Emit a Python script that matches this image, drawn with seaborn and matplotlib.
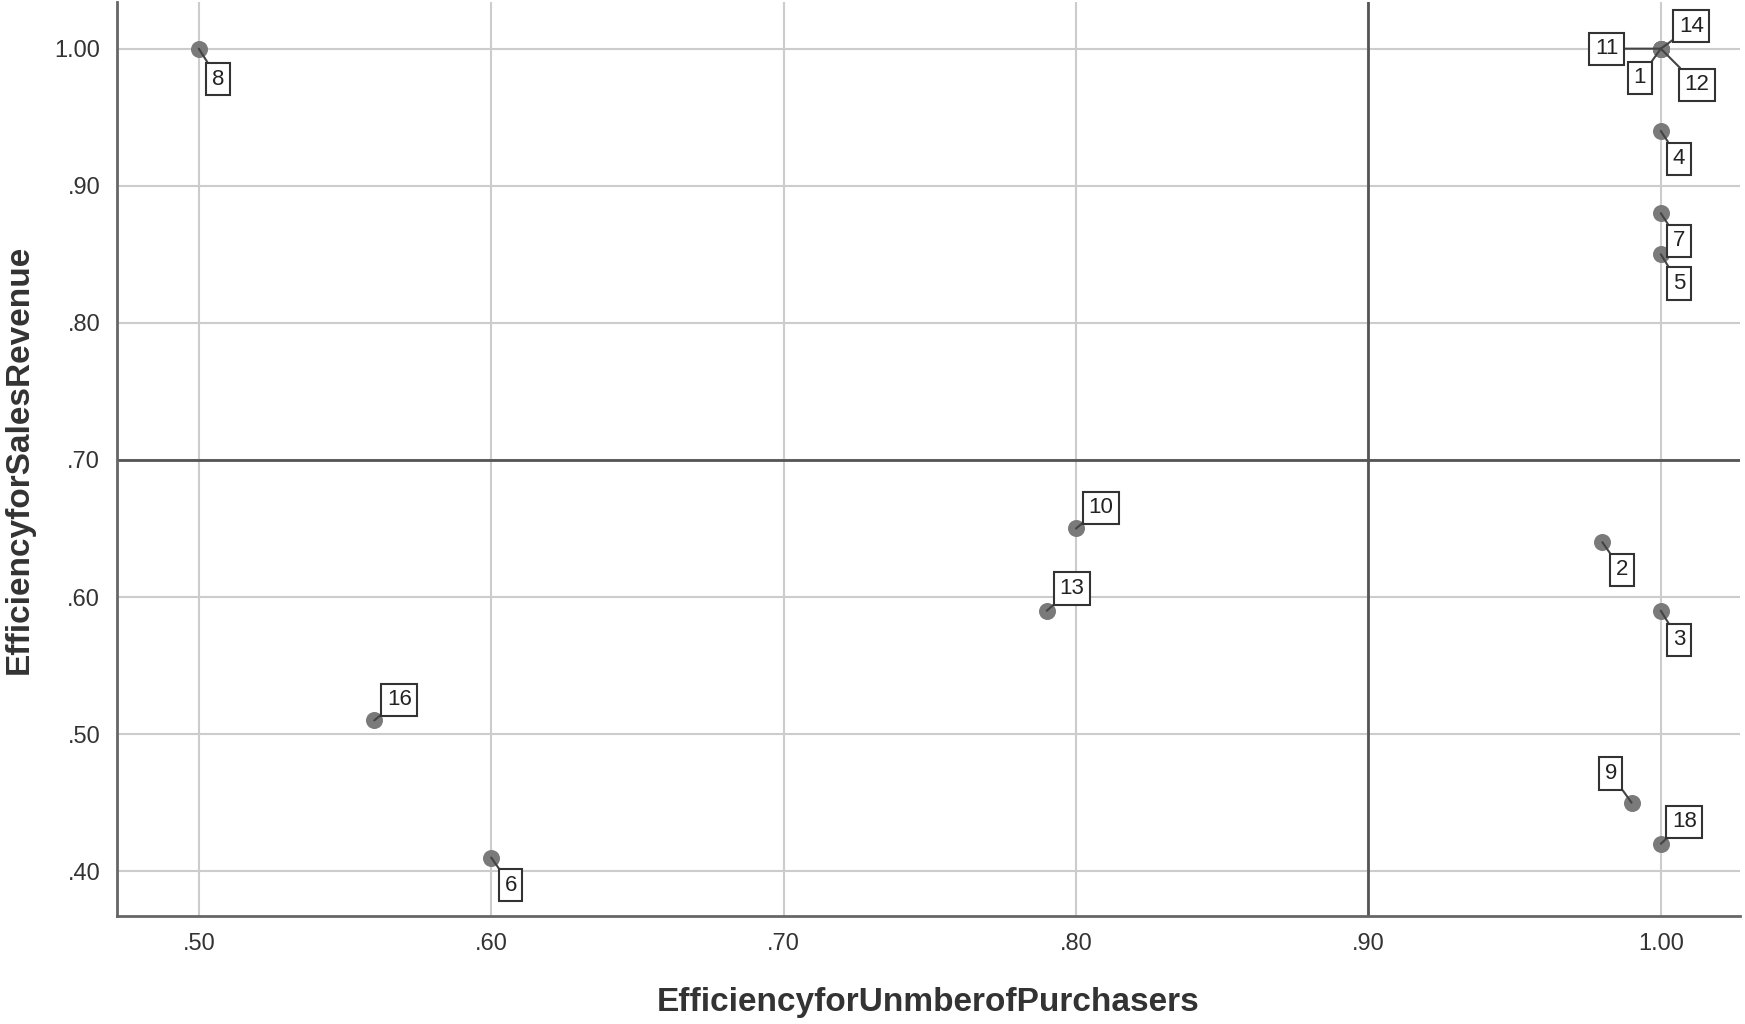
import matplotlib
matplotlib.use("Agg")
import matplotlib.pyplot as plt
import seaborn as sns
import pandas as pd

# data
units = ["8", "11", "1", "14", "12", "4", "7", "5", "10", "13", "2", "3", "16", "6", "9", "18"]
eff_purchasers = [0.50, 1.00, 1.00, 1.00, 1.00, 1.00, 1.00, 1.00, 0.80, 0.79, 0.98, 1.00, 0.56, 0.60, 0.99, 1.00]
eff_revenue = [1.00, 1.00, 1.00, 1.00, 1.00, 0.94, 0.88, 0.85, 0.65, 0.59, 0.64, 0.59, 0.51, 0.41, 0.45, 0.42]

# label offsets in points (dx, dy)
label_offsets = {
    "8": (14, -22), "11": (-39, 0), "1": (-15, -21), "14": (22, 16), "12": (26, -26),
    "4": (13, -20), "7": (13, -20), "5": (13, -21), "10": (18, 15), "13": (18, 16),
    "2": (14, -20), "3": (13, -21), "16": (18, 15), "6": (14, -20), "9": (-15, 21),
    "18": (17, 16),
}

x_ticks = [0.50, 0.60, 0.70, 0.80, 0.90, 1.00]
y_ticks = [0.40, 0.50, 0.60, 0.70, 0.80, 0.90, 1.00]


def fmt(v):
    s = f"{v:.2f}"
    return s if v >= 1 else s[1:]


df = pd.DataFrame({"unit": units, "x": eff_purchasers, "y": eff_revenue})

sns.set_style("white")
plt.rcParams["font.family"] = ["Liberation Sans", "DejaVu Sans"]

fig = plt.figure(figsize=(17.45, 10.24), dpi=100)
ax = fig.add_axes([0.067, 0.105, 0.93, 0.893])

ax.set_xlim(0.472, 1.027)
ax.set_ylim(0.367, 1.034)
ax.set_xticks(x_ticks)
ax.set_yticks(y_ticks)
ax.set_xticklabels([fmt(v) for v in x_ticks], fontsize=17, color="#333333")
ax.set_yticklabels([fmt(v) for v in y_ticks], fontsize=17, color="#333333")
ax.grid(True, color="#cccccc", linewidth=1.5)
ax.set_axisbelow(True)

ax.axvline(0.90, color="#555555", linewidth=2, zorder=1)
ax.axhline(0.70, color="#555555", linewidth=2, zorder=1)

sns.scatterplot(data=df, x="x", y="y", ax=ax, s=150, color="#7a7a7a",
                linewidth=0, zorder=3, legend=False)

for u, xv, yv in zip(units, eff_purchasers, eff_revenue):
    dx, dy = label_offsets[u]
    ax.annotate(u, (xv, yv), xytext=(dx, dy), textcoords="offset points",
                ha="center", va="center", fontsize=16, color="#222222",
                bbox=dict(boxstyle="square,pad=0.25", fc="white", ec="#333333", lw=1.5),
                arrowprops=dict(arrowstyle="-", color="#444444", lw=1.5,
                                shrinkA=0, shrinkB=0),
                zorder=4)

for side in ["top", "right"]:
    ax.spines[side].set_visible(False)
for side in ["left", "bottom"]:
    ax.spines[side].set_color("#666666")
    ax.spines[side].set_linewidth(2)
ax.tick_params(length=0, pad=12)

ax.set_xlabel("EfficiencyforUnmberofPurchasers", fontsize=24, fontweight="bold", color="#333333")
ax.set_ylabel("EfficiencyforSalesRevenue", fontsize=24, fontweight="bold", color="#333333")
ax.xaxis.set_label_coords(0.5, -0.094)
ax.yaxis.set_label_coords(-0.06, 0.5)
ax.xaxis.label.set_va("center")
ax.yaxis.label.set_va("center")

fig.savefig("out.png", dpi=100)
